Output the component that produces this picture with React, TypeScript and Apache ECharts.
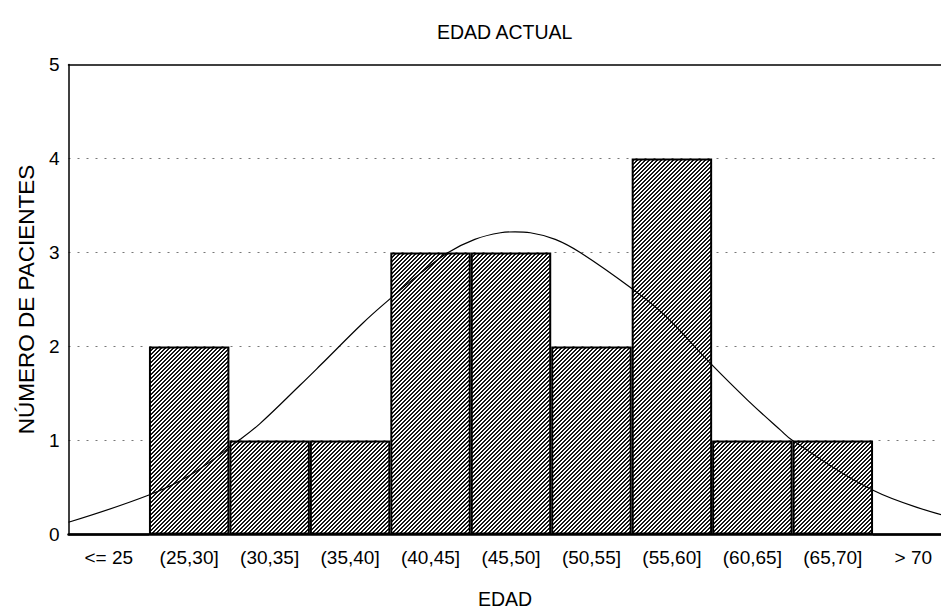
import React, { useEffect, useRef } from "react";
import * as echarts from "echarts";

const categories = ["<= 25", "(25,30]", "(30,35]", "(35,40]", "(40,45]", "(45,50]", "(50,55]", "(55,60]", "(60,65]", "(65,70]", "> 70"];
const patientCounts = [0, 2, 1, 1, 3, 3, 2, 4, 1, 1, 0];
// normal curve: x in category units (0 = left edge), y in patients
const curveX = [0, 1.0, 1.51, 2.13, 2.38, 2.88, 3.13, 3.66, 3.96, 4.36, 4.72, 5.05, 5.37, 5.55, 5.74, 6.05, 6.36, 6.98, 7.4, 7.98, 8.44, 8.85, 9.0, 10.0, 10.85];
const curveY = [0.13, 0.42, 0.63, 1.01, 1.18, 1.59, 1.8, 2.25, 2.48, 2.77, 3.0, 3.14, 3.21, 3.22, 3.21, 3.14, 3.0, 2.63, 2.34, 1.82, 1.43, 1.11, 1.0, 0.47, 0.21];
const yTicks = [0, 1, 2, 3, 4, 5];

const FONT = "Liberation Sans, Arial, Helvetica, sans-serif";

function makeHatch(): HTMLCanvasElement {
  const size = 4;
  const c = document.createElement("canvas");
  c.width = size;
  c.height = size;
  const ctx = c.getContext("2d")!;
  const img = ctx.createImageData(size, size);
  for (let y = 0; y < size; y++) {
    for (let x = 0; x < size; x++) {
      const dark = (x + y) % 4 < 2;
      const i = (y * size + x) * 4;
      const v = dark ? 20 : 255;
      img.data[i] = v;
      img.data[i + 1] = v;
      img.data[i + 2] = v;
      img.data[i + 3] = 255;
    }
  }
  ctx.putImageData(img, 0, 0);
  return c;
}

export default function App() {
  const ref = useRef<HTMLDivElement>(null);
  useEffect(() => {
    if (!ref.current) return;
    const chart = echarts.init(ref.current, null, { renderer: "svg" });
    const curveData = curveX.map((x, i) => [x, curveY[i]]);
    const hatch = makeHatch();
    chart.setOption({
      animation: false,
      backgroundColor: "#fff",
      title: {
        text: "EDAD ACTUAL",
        left: 432,
        top: 17,
        textStyle: { fontFamily: FONT, fontSize: 19.5, fontWeight: "normal", color: "#000" },
      },
      grid: { left: 68.5, right: -12.5, top: 64.5, bottom: 74.5, containLabel: false, outerBoundsMode: "none" },
      xAxis: [
        {
          type: "category",
          data: categories,
          position: "bottom",
          boundaryGap: true,
          axisLine: { show: true, lineStyle: { color: "#000", width: 2.5 } },
          axisTick: { show: false },
          axisLabel: { color: "#000", fontFamily: FONT, fontSize: 19, margin: 13, interval: 0 },
          name: "EDAD",
          nameLocation: "middle",
          nameGap: 54,
          nameTextStyle: { color: "#000", fontFamily: FONT, fontSize: 19.5, padding: [0, 12, 0, 0] },
          splitLine: { show: false },
          z: 5,
        },
        {
          type: "value",
          min: 0,
          max: 11,
          show: false,
        },
        {
          type: "category",
          data: categories,
          position: "top",
          axisLine: { show: true, lineStyle: { color: "#000", width: 1.5 } },
          axisTick: { show: false },
          axisLabel: { show: false },
          splitLine: { show: false },
        },
      ],
      yAxis: {
        type: "value",
        min: 0,
        max: yTicks[yTicks.length - 1],
        interval: 1,
        axisLine: { show: true, lineStyle: { color: "#000", width: 1.5 } },
        axisTick: { show: false },
        axisLabel: { color: "#000", fontFamily: FONT, fontSize: 19, margin: 9 },
        splitLine: {
          show: true,
          showMinLine: false,
          showMaxLine: false,
          lineStyle: { color: "#777", width: 1, type: [2, 7] },
        },
        name: "NÚMERO DE PACIENTES",
        nameLocation: "middle",
        nameRotate: 90,
        nameGap: 28,
        nameTextStyle: { color: "#000", fontFamily: FONT, fontSize: 22.5 },
      },
      series: [
        {
          type: "bar",
          data: patientCounts,
          xAxisIndex: 0,
          barCategoryGap: "0%",
          itemStyle: {
            color: { image: hatch, repeat: "repeat" },
            borderColor: "#000",
            borderWidth: 2,
          },
          z: 2,
        },
        {
          type: "line",
          data: curveData,
          xAxisIndex: 1,
          smooth: 0.4,
          showSymbol: false,
          symbol: "none",
          lineStyle: { color: "#000", width: 1.2 },
          z: 4,
        },
      ],
    });
    return () => chart.dispose();
  }, []);
  return (
    <div
      ref={ref}
      style={{ position: "fixed", left: 0, top: 0, width: 941, height: 609, background: "#fff" }}
    />
  );
}
